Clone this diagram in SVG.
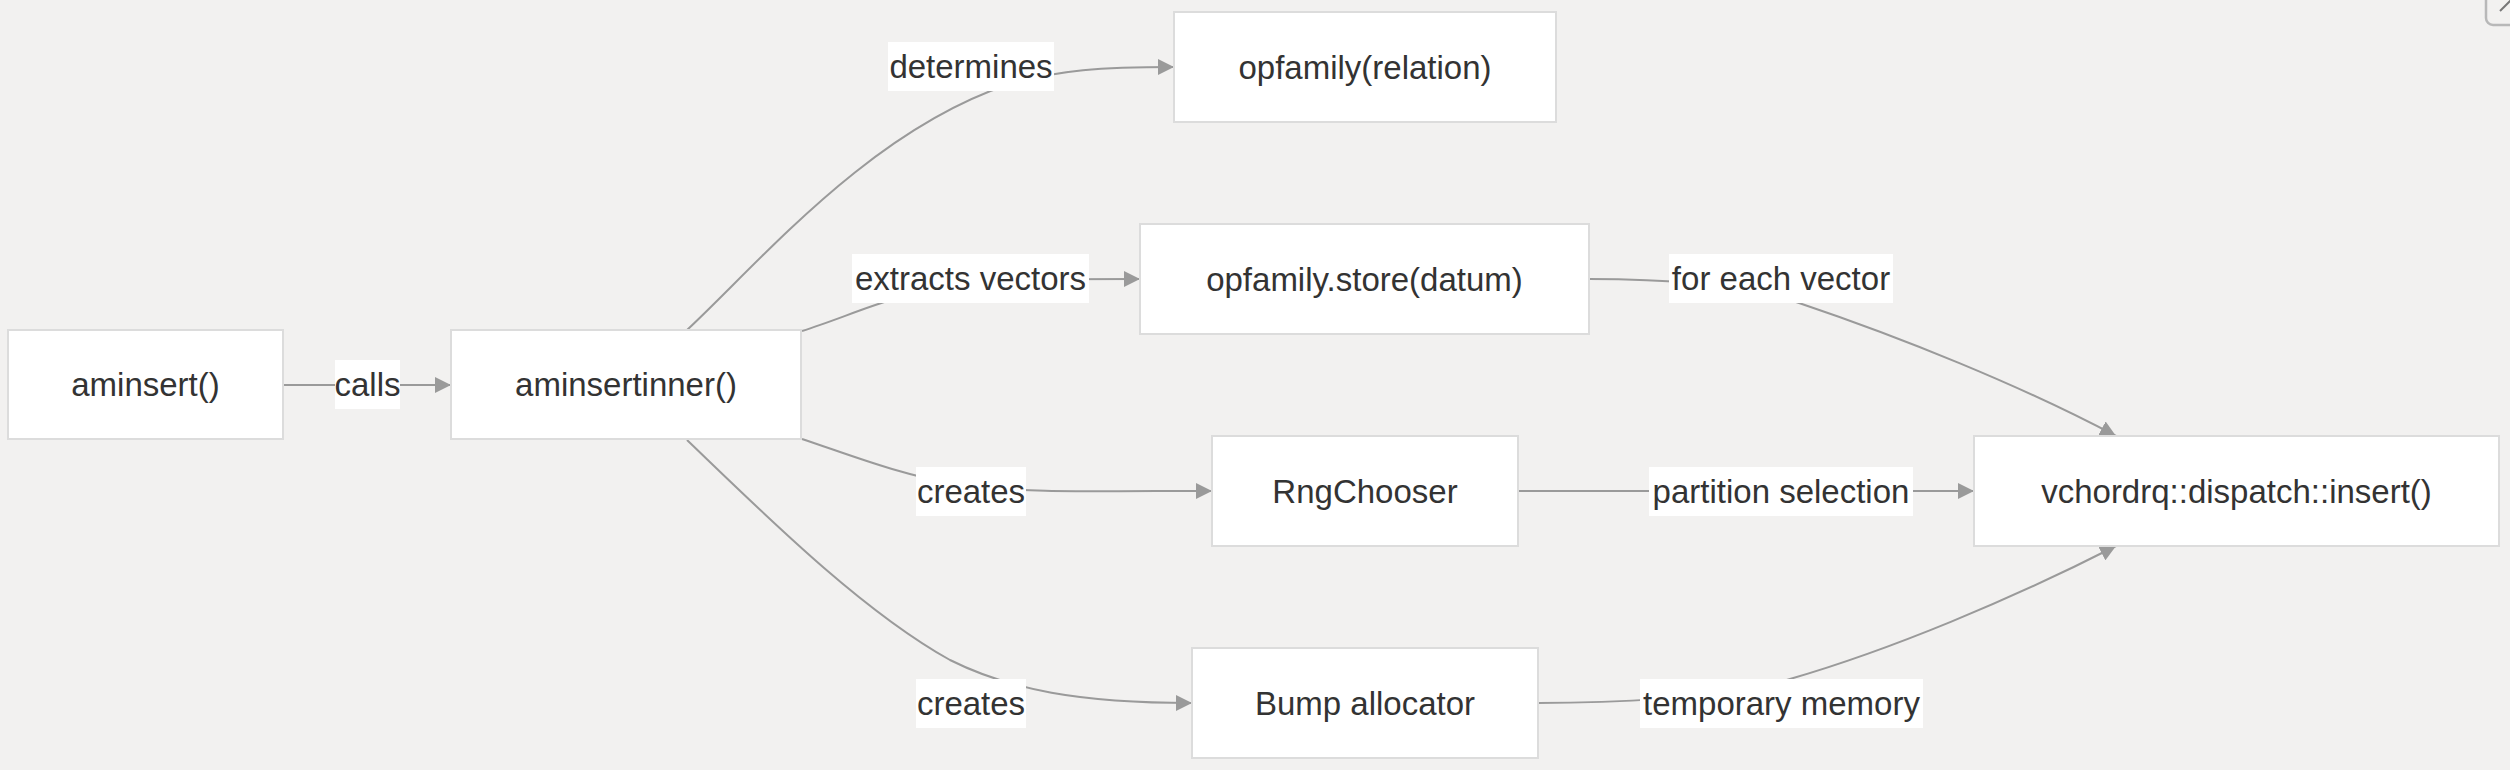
<svg xmlns="http://www.w3.org/2000/svg" width="2510" height="770" viewBox="0 0 2510 770">
<style>
.bg{fill:#f2f1f0}
.node rect{fill:#ffffff;stroke:#dcdcdc;stroke-width:2}
.node text,.lbl text{font-family:"Liberation Sans",Arial,sans-serif;font-size:33px;fill:#333333;text-anchor:middle}
.edge{fill:none;stroke:#9a9a9a;stroke-width:2}
.lbl rect{fill:#ffffff}
</style>
<defs>
<marker id="arr" viewBox="0 0 10 10" refX="10" refY="5" markerWidth="16" markerHeight="16" markerUnits="userSpaceOnUse" orient="auto">
<path d="M0,0 L10,5 L0,10 z" fill="#9a9a9a"/>
</marker>
</defs>
<rect class="bg" x="0" y="0" width="2510" height="770"/>
<g id="connectors">
<path class="edge" d="M283,385 L451,385" marker-end="url(#arr)"/>
<path class="edge" d="M687,330 C760,262 870,130 1010,84 C1060,70 1100,67 1174,67" marker-end="url(#arr)"/>
<path class="edge" d="M802,331 C850,316 890,295 960,283 C1000,279 1040,279 1140,279" marker-end="url(#arr)"/>
<path class="edge" d="M802,439 C850,455 900,475 960,485 C1020,493 1100,491 1212,491" marker-end="url(#arr)"/>
<path class="edge" d="M687,440 C760,510 860,610 950,660 C1010,690 1080,703 1192,703" marker-end="url(#arr)"/>
<path class="edge" d="M1589,279 C1660,279 1740,283 1799,303 C1900,337 2020,385 2116,436" marker-end="url(#arr)"/>
<path class="edge" d="M1518,491 L1974,491" marker-end="url(#arr)"/>
<path class="edge" d="M1538,703 C1600,703 1720,700 1790,679 C1890,650 2010,600 2116,546" marker-end="url(#arr)"/>
<g class="lbl"><rect x="335" y="360" width="65" height="49"/><text x="367.5" y="396">calls</text></g>
<g class="lbl"><rect x="888" y="42" width="166" height="49"/><text x="971" y="78">determines</text></g>
<g class="lbl"><rect x="852" y="254" width="237" height="49"/><text x="970.5" y="290">extracts vectors</text></g>
<g class="lbl"><rect x="916" y="467" width="110" height="49"/><text x="971" y="503">creates</text></g>
<g class="lbl"><rect x="916" y="679" width="110" height="49"/><text x="971" y="715">creates</text></g>
<g class="lbl"><rect x="1669" y="254" width="224" height="49"/><text x="1781" y="290">for each vector</text></g>
<g class="lbl"><rect x="1649" y="467" width="264" height="49"/><text x="1781" y="503">partition selection</text></g>
<g class="lbl"><rect x="1640" y="679" width="283" height="49"/><text x="1781.5" y="715">temporary memory</text></g>
</g>
<g id="aminsert" class="node"><rect x="8" y="330" width="275" height="109"/><text x="145.5" y="396">aminsert()</text></g>
<g id="aminsertinner" class="node"><rect x="451" y="330" width="350" height="109"/><text x="626" y="396">aminsertinner()</text></g>
<g id="opfamily_relation" class="node"><rect x="1174" y="12" width="382" height="110"/><text x="1365" y="78.5">opfamily(relation)</text></g>
<g id="opfamily_store" class="node"><rect x="1140" y="224" width="449" height="110"/><text x="1364.5" y="290.5">opfamily.store(datum)</text></g>
<g id="rngchooser" class="node"><rect x="1212" y="436" width="306" height="110"/><text x="1365" y="502.5">RngChooser</text></g>
<g id="bump" class="node"><rect x="1192" y="648" width="346" height="110"/><text x="1365" y="714.5">Bump allocator</text></g>
<g id="dispatch_insert" class="node"><rect x="1974" y="436" width="525" height="110"/><text x="2236.5" y="502.5">vchordrq::dispatch::insert()</text></g>
<rect x="2486" y="-20" width="50" height="45" rx="7" fill="none" stroke="#b8b8b8" stroke-width="2.5"/>
<line x1="2500" y1="11" x2="2512" y2="-1" stroke="#777777" stroke-width="2"/>
</svg>
